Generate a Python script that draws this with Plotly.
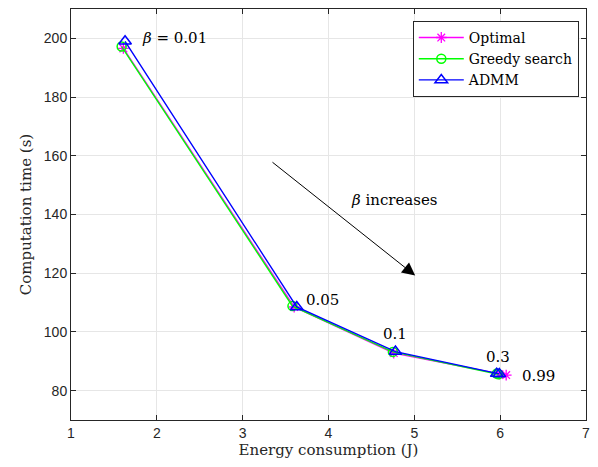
import plotly.graph_objects as go

energy_opt = [1.61, 3.60, 4.76, 5.99, 6.07]
time_opt = [196.6, 108.5, 92.8, 85.6, 85.3]
energy_greedy = [1.59, 3.58, 4.75, 5.96, 5.98]
time_greedy = [197.2, 108.8, 93.2, 85.8, 85.6]
energy_admm = [1.63, 3.63, 4.78, 5.96, 5.99]
time_admm = [199.0, 108.5, 93.3, 85.8, 85.7]

labels = ["<i>β</i> = 0.01", "0.05", "0.1", "0.3", "0.99"]
label_x = [1.80, 3.71, 4.78, 5.97, 6.23]
label_y = [200.0, 111.0, 99.4, 91.6, 85.0]
label_anchor = ["left", "left", "center", "center", "left"]

serif = "DejaVu Serif"
fig = go.Figure()
fig.add_trace(go.Scatter(x=energy_opt, y=time_opt, name="Optimal", mode="lines+markers",
                         line=dict(color="#ff00ff", width=1.4),
                         marker=dict(symbol="asterisk-open", size=9, color="#ff00ff", line=dict(width=1.3, color="#ff00ff"))))
fig.add_trace(go.Scatter(x=energy_greedy, y=time_greedy, name="Greedy search", mode="lines+markers",
                         line=dict(color="#00ff00", width=1.4),
                         marker=dict(symbol="circle-open", size=9, color="#00ff00", line=dict(width=1.5, color="#00ff00"))))
fig.add_trace(go.Scatter(x=energy_admm, y=time_admm, name="ADMM", mode="lines+markers",
                         line=dict(color="#0000ff", width=1.4),
                         marker=dict(symbol="triangle-up-open", size=11, color="#0000ff", line=dict(width=1.5, color="#0000ff"))))

for t, x, y, a in zip(labels, label_x, label_y, label_anchor):
    fig.add_annotation(x=x, y=y, text=t, showarrow=False, xanchor=a, yanchor="middle",
                       font=dict(family=serif, size=15, color="black"))

fig.add_annotation(x=5.01, y=119.2, ax=3.33, ay=158.2, xref="x", yref="y", axref="x", ayref="y",
                   text="", showarrow=True, arrowhead=2, arrowsize=2.6, arrowwidth=1, arrowcolor="black")
fig.add_annotation(x=4.77, y=145, text="<i>β</i> increases", showarrow=False,
                   font=dict(family=serif, size=15, color="black"))

axis_common = dict(showline=True, linecolor="#262626", linewidth=1, mirror="ticks",
                   ticks="inside", ticklen=5, tickcolor="#262626",
                   showgrid=True, gridcolor="#e6e6e6", gridwidth=1, zeroline=False,
                   tickfont=dict(family="Liberation Sans", size=14, color="#262626"))
fig.update_xaxes(range=[1, 7], dtick=1, title=dict(text="Energy consumption (J)", standoff=4,
                 font=dict(family=serif, size=15, color="#262626")), **axis_common)
fig.update_yaxes(range=[70, 210], tickvals=[80, 100, 120, 140, 160, 180, 200],
                 title=dict(text="Computation time (s)", standoff=8,
                            font=dict(family=serif, size=15, color="#262626")), **axis_common)

fig.update_layout(width=598, height=467, margin=dict(l=71, r=9, t=8, b=47),
                  paper_bgcolor="white", plot_bgcolor="white",
                  legend=dict(x=0.986, y=0.971, xanchor="right", yanchor="top",
                              bgcolor="white", bordercolor="#262626", borderwidth=1,
                              font=dict(family=serif, size=14, color="black"),
                              tracegroupgap=0, itemwidth=45))
fig.write_html("out.html")
